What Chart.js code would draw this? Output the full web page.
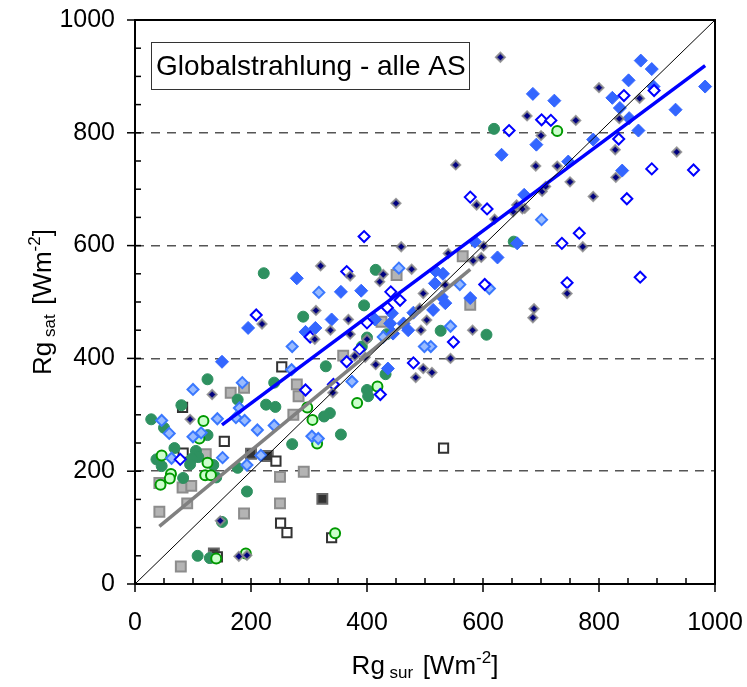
<!DOCTYPE html>
<html>
<head>
<meta charset="utf-8">
<script src="https://cdn.jsdelivr.net/npm/chart.js@4.4.1/dist/chart.umd.min.js"></script>
<style>
  html, body { margin: 0; padding: 0; background: #fff; }
  canvas { display: block; }
</style>
</head>
<body>
<canvas id="grafico" width="747" height="687"></canvas>
<script>
// --- Daten (Rg_sur / Rg_sat in W/m2) ---
const tickValues = [0, 200, 400, 600, 800, 1000];
const tickLabels = ['0', '200', '400', '600', '800', '1000'];
const chartTitle = 'Globalstrahlung - alle AS';

const navyPts = [[630,934],[676,830],[760,822],[700,795],[553,743],[691,741],[728,741],[750,713],[790,687],[589,672],
  [702,696],[708,705],[658,672],[672,666],[652,660],[828,770],[829,721],[934,766],[835,825],[870,861],[800,880],
  [772,598],[745,515],[688,488],[686,472],[601,599],[583,573],[597,579],[582,450],[544,400],[512,375],[535,530],
  [540,586],[620,647],[668,665],[450,675],[459,598],[477,558],[320,564],[371,546],[428,549],[422,536],[497,515],
  [312,485],[491,489],[368,469],[337,450],[310,434],[371,443],[493,450],[503,468],[400,434],[397,402],[379,404],
  [497,382],[484,366],[415,389],[341,339],[219,461],[133,336],[95,292],[147,112],[179,49],[193,51]];

const bluePts = [[686,869],[723,857],[692,779],[632,761],[671,690],[747,749],[790,788],[840,733],[932,841],[868,804],
  [852,826],[836,844],[823,862],[851,893],[872,928],[891,913],[894,882],[983,882],[659,604],[625,579],[578,507],
  [586,607],[531,550],[517,533],[535,498],[514,486],[529,509],[518,555],[279,542],[355,518],[390,520],[443,480],
  [480,481],[339,469],[414,469],[440,462],[463,462],[471,450],[311,454],[294,447],[445,444],[436,382],[150,394],[195,454]];

const hollowPts = [[701,823],[717,822],[645,804],[578,686],[607,665],[848,683],[834,789],[891,736],[963,734],[843,866],
  [895,875],[766,622],[736,604],[871,544],[745,534],[603,531],[549,429],[395,616],[365,554],[441,518],[457,503],
  [435,490],[400,463],[302,438],[209,477],[387,416],[365,394],[480,392],[342,354],[423,336],[294,344],[78,221]];

const lightBluePts = [[701,646],[560,531],[611,524],[544,457],[510,421],[499,421],[455,560],[317,517],[271,421],[428,438],
  [374,359],[270,380],[185,357],[100,345],[180,312],[46,290],[142,293],[174,295],[189,290],[59,267],[211,273],
  [240,281],[114,268],[100,261],[151,224],[63,223],[193,211],[217,228],[305,262],[316,258]];

const greenPts = [[619,807],[653,607],[527,449],[606,442],[415,557],[222,551],[395,494],[290,474],[434,443],[400,437],
  [391,421],[329,386],[432,372],[400,344],[402,333],[336,303],[326,297],[125,363],[240,357],[177,327],[226,318],
  [242,314],[80,317],[28,292],[50,277],[125,264],[271,248],[355,265],[68,241],[105,236],[109,225],[98,222],[95,212],
  [37,221],[46,209],[83,188],[135,211],[140,189],[177,206],[193,164],[150,110],[108,50],[129,46]];

const lightGreenPts = [[728,803],[418,350],[383,321],[297,313],[306,291],[314,249],[345,90],[118,289],[111,258],[46,228],
  [125,215],[121,193],[131,193],[62,195],[60,187],[44,176],[140,45],[191,54]];

const grayPts = [[565,581],[578,495],[451,548],[425,465],[359,405],[279,354],[282,333],[273,300],[188,348],[165,339],
  [122,230],[42,179],[82,171],[97,174],[90,143],[42,128],[188,125],[250,190],[250,143],[291,199],[79,31],[136,47]];

const openSqPts = [[532,241],[253,385],[154,253],[82,313],[83,232],[243,218],[251,108],[262,91],[339,82],[142,48]];

const darkSqPts = [[200,231],[229,227],[323,151],[136,54]];

// Regressionsgeraden und 1:1-Linie (Endpunkte)
const blueFit = [[150,282],[983,919]];
const grayFit = [[42,102],[578,558]];
const oneToOne = [[0,0],[1000,1000]];

const toXY = arr => arr.map(p => ({x: p[0], y: p[1]}));
const FONT = "'Liberation Sans', Arial, sans-serif";

// Rahmen, Teilstriche, Achsentitel und Titelbox
const rahmen = {
  id: 'rahmen',
  afterDraw(chart) {
    const {ctx, chartArea: a, scales: {x, y}} = chart;
    ctx.save();
    ctx.strokeStyle = '#000';
    ctx.lineWidth = 1.5;
    for (let v = 0; v <= 1000; v += 50) {
      const major = v % 200 === 0;
      const px = x.getPixelForValue(v);
      ctx.beginPath();
      ctx.moveTo(px, a.bottom + (major ? 8 : 0));
      ctx.lineTo(px, a.bottom - 6);
      ctx.stroke();
      const py = y.getPixelForValue(v);
      ctx.beginPath();
      ctx.moveTo(a.left - (major ? 8 : 0), py);
      ctx.lineTo(a.left + 6, py);
      ctx.stroke();
    }
    ctx.lineWidth = 2;
    ctx.strokeRect(a.left, a.top, a.right - a.left, a.bottom - a.top);

    // Titelbox
    ctx.lineWidth = 1;
    ctx.fillStyle = '#fff';
    ctx.fillRect(151.5, 42.5, 318, 47);
    ctx.strokeStyle = '#333';
    ctx.strokeRect(151.5, 42.5, 318, 47);
    ctx.fillStyle = '#000';
    ctx.font = '28px ' + FONT;
    ctx.textBaseline = 'alphabetic';
    ctx.textAlign = 'left';
    ctx.fillText(chartTitle, 156, 75);

    // Achsentitel mit Index / Exponent
    const teile = sub => [
      {t: 'Rg', s: 26, dy: 0},
      {t: ' ' + sub + '  ', s: 17, dy: 4},
      {t: '[Wm', s: 26, dy: 0},
      {t: '-2', s: 17, dy: -11},
      {t: ']', s: 26, dy: 0}
    ];
    const zeichne = (parts, cx, cy) => {
      let w = 0;
      parts.forEach(p => { ctx.font = p.s + 'px ' + FONT; w += ctx.measureText(p.t).width; });
      let xx = cx - w / 2;
      parts.forEach(p => {
        ctx.font = p.s + 'px ' + FONT;
        ctx.fillText(p.t, xx, cy + p.dy);
        xx += ctx.measureText(p.t).width;
      });
    };
    zeichne(teile('sur'), 425, 674);
    ctx.translate(51, 302);
    ctx.rotate(-Math.PI / 2);
    zeichne(teile('sat'), 0, 0);
    ctx.restore();
  }
};

const ctx = document.getElementById('grafico').getContext('2d');
new Chart(ctx, {
  type: 'scatter',
  data: {
    datasets: [
      {data: toXY(oneToOne), showLine: true, borderColor: '#000', borderWidth: 1, pointRadius: 0, order: 0},
      {data: toXY(blueFit), showLine: true, borderColor: '#0000ff', borderWidth: 3.5, pointRadius: 0, order: 0},
      {data: toXY(grayFit), showLine: true, borderColor: '#808080', borderWidth: 3.5, pointRadius: 0, order: 0},
      {data: toXY(navyPts), pointStyle: 'rectRot', pointRadius: 4.5, backgroundColor: '#000080',
        borderColor: 'rgba(140,140,140,0.85)', borderWidth: 2, order: 1},
      {data: toXY(hollowPts), pointStyle: 'rectRot', pointRadius: 5.5, backgroundColor: '#fff',
        borderColor: '#0000ff', borderWidth: 2, order: 2},
      {data: toXY(bluePts), pointStyle: 'rectRot', pointRadius: 6.5, backgroundColor: '#3366ff',
        borderColor: '#3366ff', borderWidth: 1, order: 3},
      {data: toXY(lightBluePts), pointStyle: 'rectRot', pointRadius: 5.5, backgroundColor: '#99bbff',
        borderColor: '#3a78ff', borderWidth: 2, order: 4},
      {data: toXY(lightGreenPts), pointStyle: 'circle', pointRadius: 5, backgroundColor: '#ccffcc',
        borderColor: '#009900', borderWidth: 2, order: 5},
      {data: toXY(greenPts), pointStyle: 'circle', pointRadius: 5.5, backgroundColor: '#2e9160',
        borderColor: '#2e9160', borderWidth: 1, order: 6},
      {data: toXY(openSqPts), pointStyle: 'rect', pointRadius: 6.5, backgroundColor: '#fff',
        borderColor: '#333', borderWidth: 2, order: 7},
      {data: toXY(grayPts), pointStyle: 'rect', pointRadius: 7, backgroundColor: '#b4b4b4',
        borderColor: '#8c8c8c', borderWidth: 2, order: 8},
      {data: toXY(darkSqPts), pointStyle: 'rect', pointRadius: 7, backgroundColor: '#333',
        borderColor: '#666', borderWidth: 2, order: 9}
    ]
  },
  options: {
    responsive: false,
    animation: false,
    events: [],
    layout: {padding: {top: 20, right: 32, left: 0, bottom: 0}},
    plugins: {legend: {display: false}, tooltip: {enabled: false}},
    scales: {
      x: {
        type: 'linear', min: 0, max: 1000,
        afterBuildTicks: s => { s.ticks = tickValues.map(v => ({value: v})); },
        afterFit: s => { s.height = 103; s.paddingLeft = 0; s.paddingRight = 0; },
        ticks: {font: {size: 25, family: FONT}, color: '#000', padding: 24, maxRotation: 0,
          callback: (v) => tickLabels[tickValues.indexOf(v)]},
        grid: {display: false, drawTicks: false},
        border: {display: false}
      },
      y: {
        type: 'linear', min: 0, max: 1000,
        afterBuildTicks: s => { s.ticks = tickValues.map(v => ({value: v})); },
        afterFit: s => { s.width = 135; s.paddingTop = 0; s.paddingBottom = 0; },
        ticks: {font: {size: 25, family: FONT}, color: '#000', padding: 20,
          callback: (v) => tickLabels[tickValues.indexOf(v)]},
        grid: {
          drawTicks: false,
          color: c => (c.tick && c.tick.value > 0 && c.tick.value < 1000) ? '#555' : 'rgba(0,0,0,0)',
          lineWidth: 1.5
        },
        border: {display: false, dash: [9, 7]}
      }
    }
  },
  plugins: [rahmen]
});
</script>
</body>
</html>
